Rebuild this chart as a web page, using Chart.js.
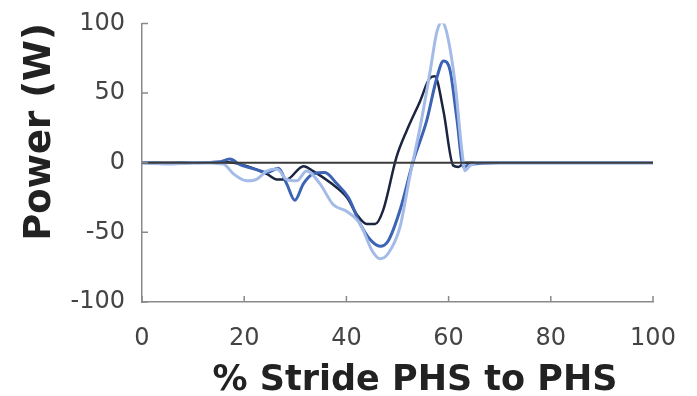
<!DOCTYPE html>
<html>
<head>
<meta charset="utf-8">
<script src="https://cdn.jsdelivr.net/npm/chart.js@4"></script>
<style>
  html, body { margin: 0; padding: 0; background: #fff; }
  #wrap { width: 697px; height: 396px; }
</style>
</head>
<body>
<div id="wrap"><canvas id="chart" width="697" height="396"></canvas></div>
<script>
// % stride (x) and power in W (y)
const darkX = [0, 5, 10, 15, 17.9, 21, 24.4, 26.4, 28.3, 31.6, 33.5, 37.1, 40.1, 42, 44, 45.6, 47.2, 49.8, 51.8, 54.4, 56.4, 57.3, 59, 60.9, 61.9, 63.2, 70, 80, 90, 100];
const darkY = [0, 0, 0, 0.5, 0, -3, -8, -12, -12, -2.5, -6, -15, -25, -37, -44, -44, -34, 4, 23, 44, 61, 62, 37, -2, -3, 0, 0, 0, 0, 0];

const midX = [0, 5, 10, 15, 17.2, 19.2, 22.4, 24.4, 26.7, 28.3, 29.9, 31.6, 33.5, 35.8, 38.1, 40.4, 42.7, 44.6, 46.6, 48.2, 50.5, 53.1, 55.7, 57.7, 59, 60.3, 61.6, 62.9, 64.2, 70, 80, 90, 100];
const midY = [0, -0.5, 0, 0.5, 2.6, -1.4, -5, -7, -4, -15, -27, -15, -8, -7, -15, -25, -44, -55, -60, -56, -34, 1.4, 30, 61, 73, 66, 32, -3, -1.4, 0, 0, 0, 0];

const lightX = [0, 5, 10, 15.9, 17.9, 20.5, 22.4, 24.4, 26.4, 28.3, 30.3, 32.2, 34.8, 37.4, 40.1, 42.7, 45, 46.6, 48.2, 50.5, 52.4, 54.4, 56.4, 57.7, 58.7, 59.6, 61.3, 62.6, 63.2, 64.2, 65.5, 70, 80, 90, 100];
const lightY = [0, -1, 0, -1, -8, -13, -12, -6, -4.5, -12, -13, -6, -15, -30, -35, -44, -63, -69, -65, -46, -10, 25, 66, 94, 101, 94, 56, 8.6, -5.7, -2, 0, 0, 0, 0, 0];

const zeroX = [0, 100];
const zeroY = [0, 0];

const xTicks = [0, 20, 40, 60, 80, 100];
const yTicks = [-100, -50, 0, 50, 100];

const pts = (xs, ys) => xs.map((x, i) => ({ x, y: ys[i] }));

// inward tick marks + hand-placed axis titles (MATLAB style)
const axisDecor = {
  id: 'axisDecor',
  afterDraw(chart) {
    const { ctx, chartArea, scales } = chart;
    ctx.save();
    ctx.strokeStyle = '#8a8a8a';
    ctx.lineWidth = 1.5;
    ctx.beginPath();
    xTicks.forEach(v => {
      const px = scales.x.getPixelForValue(v);
      ctx.moveTo(px, chartArea.bottom);
      ctx.lineTo(px, chartArea.bottom - 6);
    });
    yTicks.forEach(v => {
      const py = scales.y.getPixelForValue(v);
      ctx.moveTo(chartArea.left, py);
      ctx.lineTo(chartArea.left + 6, py);
    });
    ctx.stroke();

    ctx.fillStyle = '#222';
    ctx.font = 'bold 35px "DejaVu Sans"';
    ctx.textAlign = 'center';
    ctx.textBaseline = 'alphabetic';
    ctx.fillText('% Stride PHS to PHS', 415, 390);

    ctx.translate(50, 132);
    ctx.rotate(-Math.PI / 2);
    ctx.font = 'bold 37px "DejaVu Sans"';
    ctx.fillText('Power (W)', 0, 0);
    ctx.restore();
  }
};

const line = (data, color, width) => ({
  data,
  borderColor: color,
  borderWidth: width,
  pointRadius: 0,
  fill: false,
  cubicInterpolationMode: 'monotone',
});

new Chart(document.getElementById('chart'), {
  type: 'line',
  data: {
    datasets: [
      line(pts(zeroX, zeroY), '#3a3a3a', 2),
      line(pts(lightX, lightY), '#a4bbe8', 3),
      line(pts(midX, midY), '#3c63b4', 3),
      line(pts(darkX, darkY), '#1b2540', 2.5),
    ],
  },
  options: {
    responsive: false,
    animation: false,
    layout: { padding: { top: 22, right: 44, left: 0, bottom: 0 } },
    plugins: { legend: { display: false }, tooltip: { enabled: false } },
    scales: {
      x: {
        type: 'linear',
        min: 0,
        max: 100,
        afterFit: s => { s.height = 94; },
        afterBuildTicks: s => { s.ticks = xTicks.map(v => ({ value: v })); },
        grid: { display: false },
        border: { display: true, color: '#8a8a8a', width: 1.5 },
        ticks: { color: '#444', padding: 14, font: { family: 'DejaVu Sans', size: 24 } },
      },
      y: {
        min: -100,
        max: 100,
        afterFit: s => { s.width = 142; },
        afterBuildTicks: s => { s.ticks = yTicks.map(v => ({ value: v })); },
        grid: { display: false },
        border: { display: true, color: '#8a8a8a', width: 1.5 },
        ticks: { color: '#444', padding: 9, font: { family: 'DejaVu Sans', size: 24 } },
      },
    },
  },
  plugins: [axisDecor],
});
</script>
</body>
</html>
